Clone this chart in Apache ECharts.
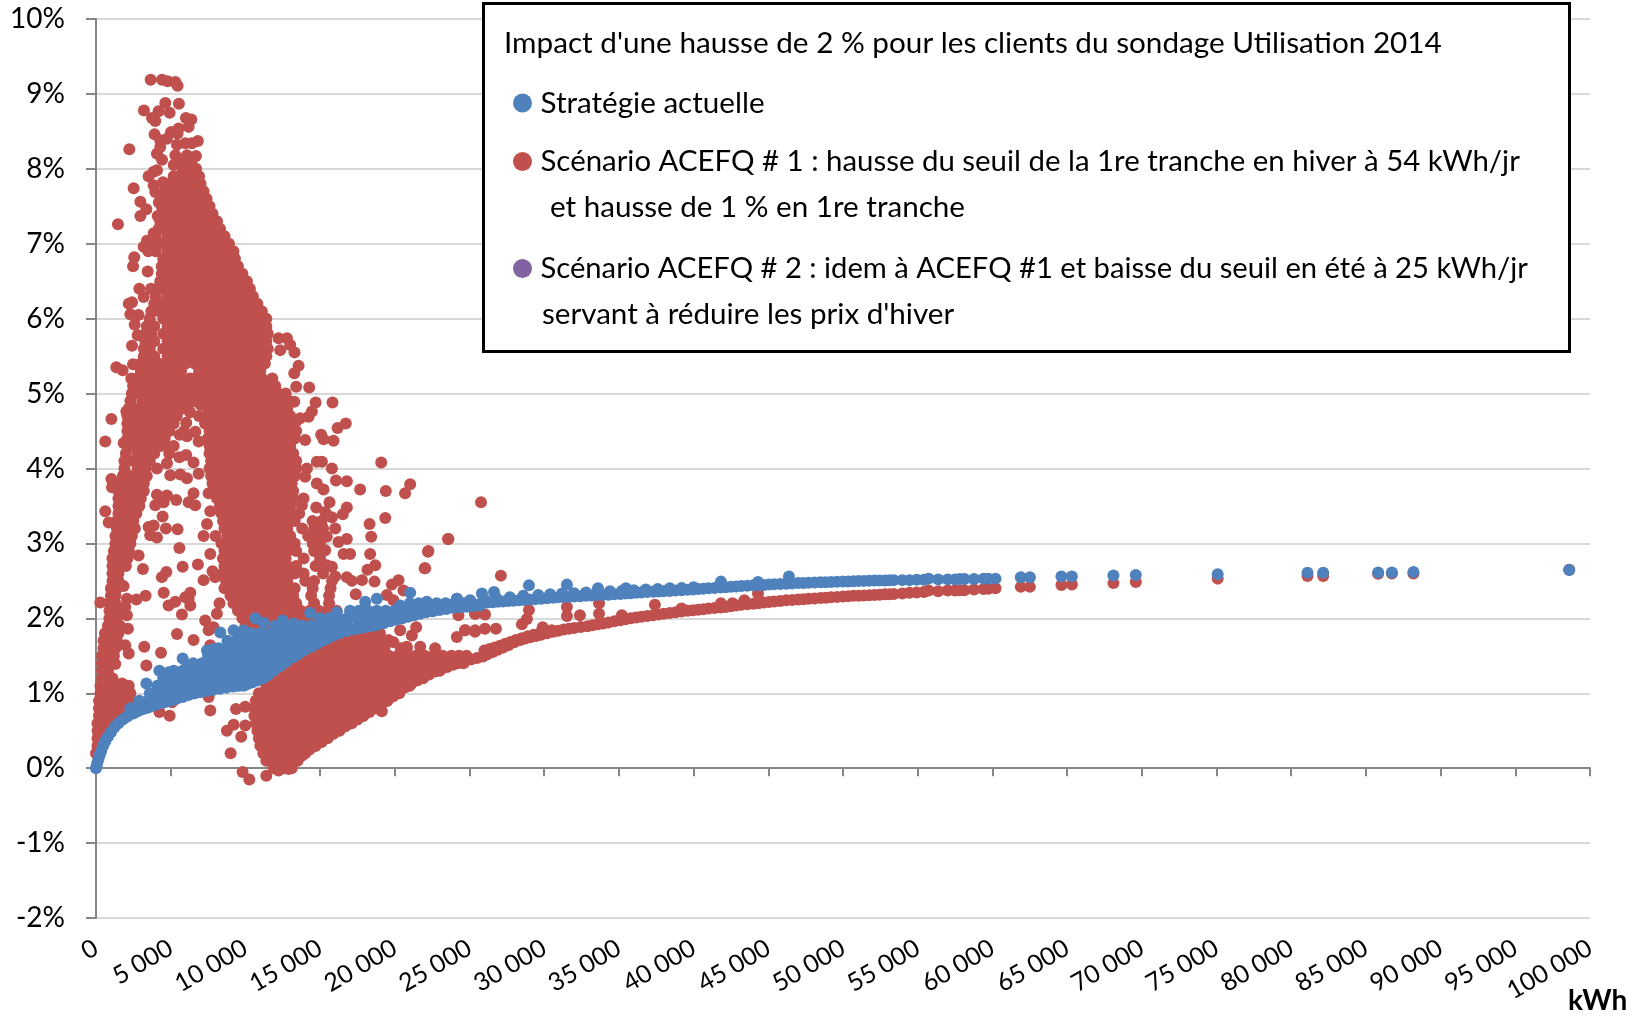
<!DOCTYPE html>
<html><head><meta charset="utf-8">
<style>html,body{margin:0;padding:0;background:#fff}#c{width:1649px;height:1016px}</style>
<script src="https://cdn.jsdelivr.net/npm/echarts@6/dist/echarts.min.js"></script>
</head><body><div id="c"></div>
<script>
const seriesNames=['Stratégie actuelle','Scénario ACEFQ # 1 : hausse du seuil de la 1re tranche en hiver à 54 kWh/jr','Scénario ACEFQ # 2 : idem à ACEFQ #1 et baisse du seuil en été à 25 kWh/jr'];
const chartTitle="Impact d'une hausse de 2 % pour les clients du sondage Utilisation 2014";
const xTickLabels=['0','5 000','10 000','15 000','20 000','25 000','30 000','35 000','40 000','45 000','50 000','55 000','60 000','65 000','70 000','75 000','80 000','85 000','90 000','95 000','100 000'];
// Dense areas read as rows: [impact %, kWh in hundreds...]
const redRows=[
[8.1,55,60,64],[8.0,58,63,67],[7.9,52,56,61,66,69],[7.8,49,54,59,64,70],[7.7,46,51,57,63,69,72],[7.6,45,50,56,62,68,74],
[7.5,44,48,54,60,66,72,76],[7.4,44,51,57,63,69,75,78],[7.3,43,48,54,60,66,72,78,81],[7.2,42,45,51,57,63,69,75,81,83],
[7.1,40,48,54,60,66,72,78,84,86],[7.0,37,42,45,51,57,63,69,75,81,87,89],[6.9,35,40,48,54,60,66,72,78,84,90,92],
[6.8,45,51,57,63,69,75,81,87,93],[6.7,44,48,54,60,66,72,78,84,90,95],[6.6,44,51,57,63,69,75,81,87,93,98],
[6.5,43,48,54,60,66,72,78,84,90,96,101],[6.4,41,45,51,57,63,69,75,81,87,93,99,103],[6.3,40,48,54,60,66,72,78,84,90,96,102,105],
[6.2,39,45,51,57,63,69,75,81,87,93,99,105,108],[6.1,37,42,48,54,60,66,72,78,84,90,96,102,108,111],
[6.0,36,45,51,57,63,69,75,81,87,93,99,105,111,114],[5.9,34,39,48,54,60,66,72,78,84,90,96,102,108,114],
[5.8,33,37,45,51,57,63,69,75,81,87,93,99,105,111,115],[5.7,33,39,48,54,60,66,72,78,84,90,96,102,108,114],
[5.6,32,36,45,51,57,63,69,75,81,87,93,99,105,111,115],[5.5,32,39,48,54,60,66,72,78,84,90,96,102,108,114],
[5.4,30,36,42,48,54,60,66,72,78,84,90,96,102,108,113],[5.3,30,34,39,45,51,57,69,75,81,87,93,99,105,110],
[5.2,27,33,39,45,51,57,63,69,75,81,87,93,99,105,111,118],[5.1,26,30,36,42,48,54,60,72,78,84,90,96,102,107,113,120],
[5.0,24,28,34,40,46,52,58,74,80,86,92,98,104,110,116,122,127],[4.9,23,31,37,43,49,55,76,82,88,94,100,106,112,118,124,129],
[4.8,22,28,34,40,46,52,75,81,87,93,99,105,111,117,123,128],[4.7,21,25,31,37,43,49,54,76,82,88,94,100,106,112,118,124,130],
[4.6,21,28,34,40,46,52,75,81,87,93,99,105,111,117,123,129],[4.5,21,25,31,37,43,49,76,82,88,94,100,106,112,118,124,130,134],
[4.4,21,28,34,40,46,75,81,87,93,99,105,111,117,123,129,133],[4.3,21,25,31,37,43,47,76,82,88,94,100,106,112,118,124,130],
[4.2,20,28,34,39,76,81,87,93,99,105,111,117,123,129,132],[4.1,19,25,31,36,77,82,88,94,100,106,112,118,124,130,134],
[4.0,19,28,33,76,81,87,93,99,105,111,117,123,129,134],[3.9,18,23,29,34,77,82,88,94,100,106,112,118,124,130,133],
[3.8,16,22,28,32,78,83,89,95,101,107,113,119,125,131],[3.7,15,20,26,32,80,86,92,98,104,110,116,122,128,132],
[3.6,15,21,27,30,81,87,93,99,105,111,117,123,129,132],[3.5,15,20,25,29,83,89,95,101,107,113,119,125,130],
[3.4,15,21,27,84,90,96,102,108,114,120,126,131,136],[3.3,14,19,25,85,91,97,103,109,115,121,127,133,145,151],
[3.2,14,20,26,86,92,98,104,110,116,122,128,138,146,152],[3.1,13,18,24,80,88,94,100,106,112,118,124,130,142,148,153],
[3.0,13,20,23,84,91,97,103,109,115,121,127,133,145,150],[2.9,12,17,22,86,92,98,104,110,116,122,128,134,146],
[2.8,11,16,21,85,91,97,103,109,115,121,127,139,150],[2.7,11,15,20,86,92,98,104,110,116,122,128,134,147],
[2.6,11,15,85,91,97,103,109,115,121,127,133,139,152],[2.5,11,15,87,92,98,104,110,116,122,128,140,146,158],
[2.4,10,14,86,91,97,103,109,115,121,127,133,145,157],[2.3,10,13,90,96,102,108,114,120,126,132,144,156],
[2.2,9,13,92,98,104,110,116,122,128,134,146,156],[2.1,9,14,95,101,107,113,119,125,131,137,143,149,155,161],
[2.0,9,14,98,104,110,116,122,128,134,140,146,152],[1.9,8,12,16,100,106,112,118,124],[1.8,6,11,15,166,172,178,184,190],
[1.7,5,9,14,158,164,170,176,182,188,193],[1.6,5,9,13,150,156,162,168,174,180,186,193,204,208],
[1.5,4,8,12,142,148,154,160,166,172,178,184,190,196,202,208,214,220,226,232,238,243,248],
[1.4,4,7,11,134,140,146,152,158,164,170,176,182,188,194,200,206,212,218,224,230,236,242,246],
[1.3,4,8,126,132,138,144,150,156,162,168,174,180,186,192,198,204,210,216,222,230],
[1.2,4,8,11,120,126,132,138,144,150,156,162,168,174,180,186,192,198,204,210,216,219],
[1.1,3,7,11,15,19,114,120,126,132,138,144,150,156,162,168,174,180,186,192,198,204,210],
[1.0,3,6,10,14,19,23,109,115,121,127,133,139,145,151,157,163,169,175,181,187,193,198,203],
[0.9,2,6,10,14,18,22,107,113,119,125,131,137,143,149,155,161,167,173,179,185,190,195],
[0.8,2,5,9,13,16,106,112,118,124,130,136,142,148,154,160,166,172,178,184,187],
[0.7,2,6,10,14,106,112,118,124,130,136,142,148,154,160,166,172,179],[0.6,1,4,8,11,107,113,119,125,131,137,143,149,155,161,167,171],
[0.5,1,4,7,108,114,120,126,132,138,144,150,156,160,163],[0.4,1,3,6,109,115,121,127,133,139,145,151,155],
[0.3,1,3,110,116,122,128,134,140,145,147],[0.2,0,2,112,118,124,130,136,140],[0.1,114,120,126,132,135],[0.0,119,125,131]
];
const redScatter=[[3660,9.19],[4420,9.19],[4790,9.17],[5310,9.16],[5460,9.11],[4640,8.88],[5550,8.87],[3210,8.78],[4190,8.77],[4930,8.75],[3750,8.68],[3970,8.64],[6020,8.68],[6380,8.66],[6200,8.56],[3920,8.46],[5020,8.49],[5530,8.54],[5460,8.47],[4300,8.38],[4750,8.4],[2230,8.26],[6820,8.37],[6420,8.34],[5420,8.32],[5980,8.34],[4300,8.29],[4080,8.2],[4420,8.12],[5310,8.18],[6690,8.17],[6090,8.18],[5200,8.05],[4080,7.98],[3520,7.9],[3860,7.96],[2520,7.74],[3860,7.78],[4480,7.82],[3970,7.69],[2970,7.56],[4210,7.55],[3370,7.46],[2970,7.37],[4130,7.37],[1470,7.26],[3860,7.14],[3410,7.04],[3190,6.96],[2560,6.82],[2480,6.7],[3520,6.92],[3460,6.63],[2900,6.4],[3680,6.4],[2190,6.2],[2410,6.22],[2300,6.06],[2850,6.05],[3190,6.29],[3970,6.2],[2590,5.92],[2790,5.78],[2410,5.64],[2480,5.39],[1360,5.35],[1780,5.31],[2360,5.2],[2480,5.1],[2030,4.76],[1030,4.66],[620,4.36],[1850,4.34],
[6040,4.61],[6090,4.43],[6420,4.89],[5860,4.8],[6650,4.49],[6870,4.36],[7430,4.38],[7200,4.96],[6980,5.05],[5860,5.05],[5420,4.74],[5900,4.5],[6500,5.1],[6900,4.7],[5200,4.3],[5600,4.45],[4900,4.2],[7300,4.6],[6200,5.0],[6700,4.95],[6300,4.75],[7000,4.85],[6000,4.95],[6600,5.2],
[12220,5.74],[12780,5.74],[13000,5.65],[12330,5.58],[13290,5.55],[13560,5.37],[13270,5.27],[13400,5.09],[14270,5.08],[14700,4.88],[15830,4.88],[13270,4.89],[14450,4.76],[14230,4.69],[13670,4.67],[13400,4.63],[16720,4.6],[16170,4.54],[15070,4.45],[15230,4.39],[15900,4.37],[14000,4.38],
[19090,4.08],[15790,4.0],[14780,4.09],[15120,4.09],[14120,4.0],[14000,3.89],[16060,3.84],[16790,3.83],[17680,3.72],[19400,3.7],[21030,3.79],[20690,3.67],[14780,3.8],[15230,3.72],[15630,3.55],[13890,3.6],[13780,3.51],[14740,3.48],[16790,3.48],[16520,3.39],[15340,3.42],[15790,3.35],[19360,3.34],[18310,3.26],[18420,3.09],[14900,3.18],[16010,3.2],[23590,3.06],[16790,3.06],[16230,3.02],[22250,2.9],[18350,2.86],[16570,2.86],[17010,2.86],[22030,2.67],[18690,2.71],[18170,2.65],[17800,2.51],[18640,2.49],[16790,2.55],[17130,2.5],[19800,2.45],[20250,2.51],[20580,2.37],[17390,2.32],[19470,2.31],[19910,2.24],[16010,2.56],[15450,2.71],[15790,2.69],[15340,2.91],[15450,3.09],[25770,3.55],[23560,3.06],[22220,2.89],[22000,2.67],[27100,2.57],
[19580,1.71],[19910,1.68],[20360,1.84],[21140,1.77],[21430,1.88],[20800,1.62],[21700,1.62],[22700,1.6],[24150,1.75],[24710,1.84],[25380,1.84],[24260,2.04],[25380,2.06],[19130,0.76],[28980,2.11],[28840,1.99],[28510,1.92],[31520,2.15],[31520,2.03],[32390,2.04],[33670,2.2],[33670,2.06],[37410,2.18],[44310,2.33],[25370,2.06],[26040,2.05],[24700,1.84],[25370,1.82],[26040,1.86],[26770,1.86],
[1030,3.86],[1070,3.75],[620,3.43],[850,3.28],[290,2.21],[2140,1.86],[1850,2.43],[2070,2.26],[2700,2.25],[3320,2.3],[1960,2.15],[2070,2.04],[1960,1.64],[2190,1.53],[3230,1.62],[3370,1.37],[4350,1.54],[1290,1.39],[1740,1.13],[2190,1.1],[4240,0.75],[4930,0.7],[5080,0.88],[7650,0.77],[7540,0.95],[9370,0.79],[9990,0.82],[9210,0.58],[8760,0.5],[9990,0.57],[9720,0.42],[9010,0.2],[9810,-0.05],[10260,-0.15],[11400,-0.1],[12220,-0.03],[12890,-0.01],
[4080,4.0],[4750,4.07],[5580,4.15],[6040,4.18],[6530,4.08],[4970,3.91],[5640,3.92],[6090,3.87],[6870,3.93],[4080,3.65],[4750,3.64],[5370,3.58],[3970,3.51],[4530,3.55],[6200,3.55],[6640,3.51],[7540,3.67],[6530,3.67],[4460,3.36],[7650,3.43],[3520,3.22],[3860,3.24],[4680,3.2],[5460,3.19],[3630,3.11],[4080,3.08],[5580,2.94],[7200,3.1],[7430,3.26],[7650,2.86],[2850,2.84],[3140,2.66],[5800,2.69],[6820,2.72],[4410,2.55],[4710,2.62],[7200,2.51],[7800,2.63],[7980,2.55],[4530,2.34],[6310,2.34],[5980,2.28],[4860,2.17],[5310,2.22],[6310,2.17],[6200,2.26],[5750,2.05],[8270,2.2],[8090,2.06],[7310,1.97],[7540,1.84],[7870,1.88],[5420,1.79],[6530,1.71],[7650,1.64]];
const redEdge=[[13000,0.05],[13400,0.11],[13800,0.17],[14300,0.25],[14700,0.3],[15100,0.35],[15500,0.41],[15900,0.46],[16300,0.51],[16700,0.56],[17100,0.6],[17500,0.65],[17900,0.7],[18300,0.75],[18700,0.8],[19100,0.85],[19500,0.9],[19900,0.96],[20300,1.02],[20700,1.08],[21100,1.13],[21500,1.17],[21900,1.21],[22300,1.25],[22700,1.29],[23100,1.32],[23500,1.35],[23900,1.38],[24300,1.41],[24700,1.43],[25100,1.45],[25500,1.47],[25900,1.49]];
const redBand=[[26200,1.52],[26900,1.58],[27600,1.64],[28400,1.71],[29100,1.75],[29800,1.78],[30600,1.82],[31300,1.85],[32000,1.87],[32900,1.895],[33600,1.92],[34300,1.945],[35100,1.975],[35800,2.0],[36500,2.02],[37300,2.04],[38000,2.06],[38800,2.08],[39600,2.1],[40300,2.115],[41000,2.13],[41800,2.145],[42500,2.16],[43200,2.18],[44000,2.195],[44700,2.21],[45400,2.225],[46200,2.24],[47000,2.25],[47700,2.26],[48500,2.27],[49200,2.28],[50000,2.29],[50700,2.3],[51400,2.305],[52100,2.31],[52800,2.32],[53400,2.325],
[26550,1.55],[27250,1.61],[28000,1.68],[28750,1.73],[29450,1.765],[30200,1.8],[30950,1.835],[31650,1.86],[32450,1.883],[33250,1.908],[33950,1.932],[34700,1.96],[35450,1.988],[36150,2.01],[36900,2.03],[37650,2.05],[38400,2.07],[39200,2.09],[39950,2.108],[40650,2.122],[41400,2.138],[42150,2.152],[42850,2.17],[43600,2.188],[44350,2.202],[45050,2.218],[45800,2.232],[46600,2.245],[47350,2.255],[48100,2.265],[48850,2.275],[49600,2.285],[50350,2.295],[51050,2.302],[51750,2.308],[52450,2.315],[53100,2.322],
[26000,1.57],[26700,1.61],[27400,1.66],[28100,1.71],[28900,1.76],[29700,1.8],[30500,1.84],[26350,1.59],[27050,1.635],[27750,1.685],[28500,1.735],[29300,1.78],[30100,1.82],[35200,2.04],[39200,2.13],[41830,2.2],[42600,2.2],[43400,2.24],[29900,1.88],
[53970,2.33],[54450,2.34],[54930,2.345],[55410,2.35],[55730,2.37],[56370,2.36],[57010,2.37],[57490,2.37],[57810,2.375],[58130,2.375],[58770,2.385],[59410,2.39],[59730,2.395],[60210,2.4],[61900,2.42],[62510,2.42],[64620,2.444],[65320,2.453],[68100,2.47],[69600,2.484],[75080,2.53],[81090,2.564],[82140,2.564],[85820,2.596],[86740,2.6],[88180,2.6],[98610,2.65]];
const blueRows=[
[0.8,23,28,33],[0.9,29,35,41,47],[1.0,36,42,48,54,60,66],[1.1,41,47,53,59,65,71,77,83,89,95,99],[1.2,45,51,57,63,69,75,81,87,93,99,105,111],
[1.3,52,58,64,70,76,82,88,94,100,106,112,118],[1.4,65,71,77,83,89,95,101,107,113,119,125],[1.5,75,81,87,93,99,105,111,117,123,129,133],
[1.6,82,88,94,100,106,112,118,124,130,136,140],[1.7,88,94,100,106,112,118,124,130,136,142,148],[1.8,98,104,110,116,122,128,134,140,146,152,157],
[1.9,120,126,132,138,144,150,156,162,168,176],[2.0,150,156,162,168,174,180,186,192,198,204],[2.1,170,176,182,188,194,200,206,212,218,224],
[2.2,210,216,222,228,234,240,246,252,258]];
const blueCurve=[[0,0],[40,0.03],[100,0.08],[170,0.13],[250,0.18],[350,0.23],[480,0.3],[620,0.36],[800,0.42],[1000,0.48],[1250,0.55],[1500,0.6],[1800,0.65],[2100,0.69],[2500,0.73],[3000,0.78],[3500,0.81],[4200,0.86],[5000,0.9],[5800,0.95],[6600,1.0],[7400,1.03],[8300,1.06],[9200,1.09],[10100,1.12],[10800,1.17],[11500,1.24],[12300,1.36],[13200,1.48],[14000,1.58],[14800,1.66],[15500,1.73],[16300,1.8],[17200,1.85],[18000,1.88],[18800,1.91],[19700,1.96],[20500,2.0],[21300,2.04],[22100,2.08],[23000,2.11],[23900,2.14],[24800,2.155],[25700,2.17],
[2750,0.755],[3250,0.795],[3850,0.835],[4600,0.88],[5400,0.925],[6200,0.975],[7000,1.015],[7850,1.045],[8750,1.075],[9650,1.105],[10450,1.145],[11150,1.2],[11900,1.3],[12750,1.42],[13600,1.53],[14400,1.62],[15150,1.7],[15900,1.77],[16750,1.83],[17600,1.865],[18400,1.895],[19250,1.935],[20100,1.98],[20900,2.02],[21700,2.06],[22550,2.095],[23450,2.125],[24350,2.148],[25250,2.162]];
const blueScatter=[[3370,1.13],[4240,1.3],[4860,1.28],[5800,1.465],[6090,1.37],[7430,1.57],[7870,1.59],[8320,1.81],[9210,1.84],[9880,1.84],[10660,2.0],[11220,1.94],[12490,1.97],[13220,1.93],[14340,2.07],[16120,2.08],[18020,2.22],[18800,2.26],[21030,2.34],[20360,2.17],[22140,2.22],[24150,2.26],[25040,2.24],[28980,2.44],[31520,2.45],[33600,2.4],[35470,2.4],[41830,2.49],[46380,2.56],[44310,2.484],[25830,2.33],[26640,2.35],[24160,2.26]];
const blueBand=[[26200,2.21],[26900,2.22],[27600,2.23],[28300,2.24],[29000,2.25],[29800,2.26],[30600,2.276],[31300,2.285],[32000,2.29],[32800,2.3],[33500,2.31],[34300,2.315],[35100,2.325],[35800,2.335],[36500,2.345],[37300,2.355],[38000,2.36],[38800,2.37],[39600,2.38],[40300,2.39],[41000,2.4],[41800,2.41],[42500,2.42],[43200,2.43],[44000,2.44],[44700,2.445],[45400,2.455],[46200,2.46],[47000,2.47],[47700,2.475],[48500,2.48],[49200,2.485],[50000,2.49],[50700,2.495],[51400,2.5],[52100,2.505],[52800,2.505],[53400,2.51],
[26550,2.215],[27250,2.225],[27950,2.235],[28650,2.245],[29400,2.255],[30200,2.268],[30950,2.28],[31650,2.288],[32400,2.295],[33150,2.305],[33900,2.312],[34700,2.32],[35450,2.33],[36150,2.34],[36900,2.35],[37650,2.358],[38400,2.365],[39200,2.375],[39950,2.385],[40650,2.395],[41400,2.405],[42150,2.415],[42850,2.425],[43600,2.435],[44350,2.443],[45050,2.45],[45800,2.458],[46600,2.465],[47350,2.472],[48100,2.478],[48850,2.483],[49600,2.488],[50350,2.493],[51050,2.498],[51750,2.503],[52450,2.505],[53100,2.508],
[26000,2.25],[26800,2.27],[27700,2.28],[28600,2.3],[29600,2.31],[30400,2.32],[31200,2.33],[32000,2.335],[32800,2.345],[33600,2.35],[34400,2.36],[35200,2.365],[36000,2.375],[36800,2.385],[37600,2.39],[38400,2.4],[39200,2.405],[40000,2.415],
[53970,2.51],[54450,2.51],[54930,2.515],[55410,2.515],[55730,2.53],[56370,2.52],[57010,2.52],[57490,2.52],[57810,2.525],[58130,2.525],[58770,2.525],[59410,2.53],[59730,2.53],[60210,2.53],[61900,2.547],[62510,2.547],[64620,2.56],[65320,2.56],[68100,2.573],[69600,2.578],[75080,2.59],[81090,2.61],[82140,2.61],[85820,2.613],[86740,2.613],[88180,2.618],[98610,2.644]];

const fromRows=rows=>rows.flatMap(([y,...xs])=>xs.map(x=>[x*100,y]));
const FONT='Lato',INK='#000';
const fs=29.6;
const legendAt=(i,top,size)=>({data:[seriesNames[i]],left:513,top,padding:0,orient:'vertical',icon:'circle',itemWidth:22,itemHeight:19,selectedMode:false,textStyle:{fontFamily:FONT,fontSize:size,color:INK,padding:[0,0,0,2]}});
const line=(text,x,y)=>({type:'text',x,y,z:5,style:{text,fontFamily:FONT,fontSize:fs,fill:INK,textVerticalAlign:'middle'}});
const chart=echarts.init(document.getElementById('c'),null,{renderer:'canvas'});
chart.setOption({
 animation:false,backgroundColor:'#fff',
 title:{text:chartTitle,left:504,top:28,padding:0,textStyle:{fontFamily:FONT,fontSize:29.7,fontWeight:'normal',color:INK}},
 legend:[legendAt(0,88,29.6),legendAt(1,147,29.4),legendAt(2,254,29.2)],
 grid:{left:96,right:59,top:19,bottom:98,containLabel:false},
 xAxis:[
  {type:'value',min:0,max:100000,interval:5000,position:'bottom',axisLine:{show:false,onZero:false},axisTick:{show:false},splitLine:{show:false},
   axisLabel:{rotate:30,margin:28,hideOverlap:false,showMaxLabel:true,showMinLabel:true,fontFamily:FONT,fontSize:25,color:INK,formatter:v=>xTickLabels[Math.round(v/5000)]}},
  {type:'value',min:0,max:100000,interval:5000,position:'bottom',axisLine:{show:true,onZero:true,lineStyle:{color:'#868686',width:2}},axisTick:{show:true,length:8,lineStyle:{color:'#868686',width:2}},axisLabel:{show:false},splitLine:{show:false}}
 ],
 yAxis:{type:'value',min:-2,max:10,interval:1,axisLine:{show:true,onZero:false,lineStyle:{color:'#868686',width:2}},axisTick:{show:true,length:10,lineStyle:{color:'#868686',width:2}},
  splitLine:{show:true,lineStyle:{color:'#D9D9D9',width:2}},axisLabel:{margin:31,fontFamily:FONT,fontSize:28,color:INK,formatter:'{value}%'}},
 series:[
  {name:seriesNames[2],type:'scatter',data:[],symbolSize:12,itemStyle:{color:'#8064A2',opacity:1},z:2},
  {name:seriesNames[1],type:'scatter',data:fromRows(redRows).concat(redScatter,redEdge,redBand),symbolSize:12,itemStyle:{color:'#C0504D',opacity:1},z:3,progressive:0},
  {name:seriesNames[0],type:'scatter',data:fromRows(blueRows).concat(blueCurve,blueScatter,blueBand),symbolSize:12,itemStyle:{color:'#4F81BD',opacity:1},z:4,progressive:0}
 ],
 graphic:{elements:[
  {type:'rect',z:1,shape:{x:483.5,y:3.5,width:1086,height:348},style:{fill:'#fff',stroke:'#000',lineWidth:3}},
  line('et hausse de 1 % en 1re tranche',550,207),
  line("servant à réduire les prix d'hiver",542,314),
  {type:'text',x:1568,y:1001,z:5,style:{text:'kWh',fontFamily:FONT,fontSize:28,fontWeight:'bold',fill:INK,textVerticalAlign:'middle'}}
 ]}
});
</script></body></html>
